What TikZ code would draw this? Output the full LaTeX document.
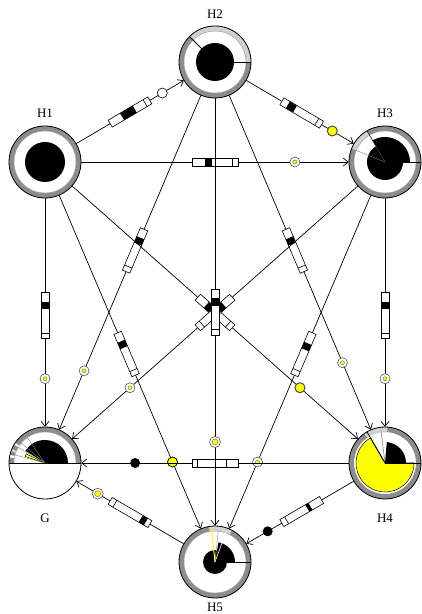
\documentclass[tikz,border=0pt]{standalone}
\usepackage{fontspec}
\setmainfont{Liberation Serif}
\usetikzlibrary{arrows.meta,calc}
\definecolor{ringgray}{gray}{0.55}
\definecolor{ringlight}{gray}{0.82}
\definecolor{ylw}{rgb}{1,1,0}
\newcommand\ringbase[1]{%
  \fill[white] (#1.center) circle (36pt);
  \fill[ringgray,even odd rule] (#1.center) circle (36pt) circle (31pt);}
\newcommand\ringout[1]{\draw[line width=0.8pt] (#1.center) circle (36pt);}
\newcommand\myseg[4]{%
  \fill[#1] ($(#2.center)+(#3:36pt)$) arc[start angle=#3,end angle=#4,radius=36pt]
    -- ($(#2.center)+(#4:31pt)$) arc[start angle=#4,end angle=#3,radius=31pt] -- cycle;}
\newcommand\mysect[5]{%
  \path[#1] (#2.center) -- ($(#2.center)+(#3:#5)$) arc[start angle=#3,end angle=#4,radius=#5] -- cycle;}
\newcommand\myrad[4]{%
  \draw[#4] (#1.center) -- ($(#1.center)+(#2:#3)$);}
\newcommand\barfill[3]{%
  \fill[black] ($(#1.south west)!#2!(#1.south east)$) -- ($(#1.south west)!#3!(#1.south east)$)
    -- ($(#1.north west)!#3!(#1.north east)$) -- ($(#1.north west)!#2!(#1.north east)$) -- cycle;
  \draw[line width=0.6pt] ($(#1.south west)!0.88!(#1.south east)$) -- ($(#1.north west)!0.88!(#1.north east)$);
  \draw[line width=0.6pt] (#1.south west) -- (#1.south east) -- (#1.north east) -- (#1.north west) -- cycle;}
\tikzset{
  nd/.style={circle,minimum size=72pt,inner sep=0pt},
  lbl/.style={inner sep=0pt,font=\fontsize{13}{15}\selectfont},
  edge/.style={line width=0.7pt,-{Straight Barb[length=5pt,width=8pt,line width=0.7pt]}},
  bar/.style={fill=white,sloped,allow upside down,rectangle,
    minimum width=46pt,minimum height=8pt,inner sep=0pt,outer sep=0pt},
  tgt/.style={circle,draw=gray!70!black,fill=white,line width=0.6pt,minimum size=10pt,inner sep=0pt,
    path picture={\filldraw[fill=ylw,draw=black!70,line width=0.3pt] (path picture bounding box.center) circle (2pt);}},
  tgtbig/.style={circle,draw=gray!70!black,fill=white,line width=0.6pt,minimum size=11pt,inner sep=0pt,
    path picture={\filldraw[fill=ylw,draw=black!70,line width=0.3pt] (path picture bounding box.center) circle (3pt);}},
  ydot/.style={circle,draw=gray!60!black,fill=ylw,line width=1pt,minimum size=10pt,inner sep=0pt},
  ystripe/.style={circle,draw=black,fill=ylw,line width=0.8pt,minimum size=10pt,inner sep=0pt},
  bdot/.style={circle,fill=black,minimum size=10pt,inner sep=0pt},
  wcirc/.style={circle,draw=black,fill=white,line width=0.6pt,minimum size=10pt,inner sep=0pt}
}
\begin{document}
\begin{tikzpicture}[x=1pt,y=1pt]
\useasboundingbox (0,0) rectangle (422,614);
% nodes
\node[nd] (H1) at (45,452) {};
\node[nd] (H2) at (215,552) {};
\node[nd] (H3) at (385,452) {};
\node[nd] (G) at (45,151) {};
\node[nd] (H4) at (385,151) {};
\node[nd] (H5) at (215,52) {};
\node[lbl] (H1l) at (45,501) {H1};
\node[lbl] (H2l) at (215,600) {H2};
\node[lbl] (H3l) at (385,501) {H3};
\node[lbl] (Gl) at (45,96) {G};
\node[lbl] (H4l) at (385,96) {H4};
\node[lbl] (H5l) at (215,7) {H5};
% H1
\ringbase{H1}
\draw[gray!70,line width=0.4pt] (H1.center) circle (31pt);
\fill (H1.center) circle (20pt);
\ringout{H1}
% H2
\ringbase{H2}
\myseg{ringlight}{H2}{0}{135}
\draw[gray!70,line width=0.4pt] (H2.center) circle (31pt);
\fill (H2.center) circle (19pt);
\myrad{H2}{0}{36pt}{line width=0.8pt}
\myrad{H2}{135}{36pt}{line width=0.8pt}
\ringout{H2}
% H3
\ringbase{H3}
\myseg{ringlight}{H3}{120}{158}
\draw[gray!70,line width=0.4pt] (H3.center) circle (31pt);
\mysect{fill=black}{H3}{0}{120}{25pt}
\fill (H3.center) circle (18pt);
\myrad{H3}{0}{36pt}{line width=0.8pt}
\myrad{H3}{120}{36pt}{line width=0.7pt,black!80}
\myrad{H3}{158}{31pt}{line width=0.4pt,gray}
\ringout{H3}
% G
\fill[white] (G.center) circle (36pt);
\myseg{ringgray}{G}{0}{180}
\myseg{white}{G}{146}{150}
\myseg{ringlight}{G}{157}{161}
\myseg{white}{G}{167}{171}
\draw[gray!70,line width=0.4pt] ($(G.center)+(0:31pt)$) arc[start angle=0,end angle=180,radius=31pt];
\mysect{fill=black}{G}{0}{148}{23pt}
\mysect{fill=ylw,draw=black,line width=0.4pt}{G}{154}{162}{21pt}
\myrad{G}{125}{31pt}{line width=0.4pt,gray}
\myrad{G}{140}{36pt}{line width=0.4pt,gray}
\myrad{G}{150}{36pt}{line width=0.4pt,gray}
\myrad{G}{165}{36pt}{line width=0.4pt,gray}
\draw[line width=0.8pt] ($(G.center)+(180:36pt)$) -- ($(G.center)+(0:36pt)$);
\ringout{G}
% H4
\ringbase{H4}
\myseg{ringlight}{H4}{86}{125}
\mysect{fill=ylw,draw=black,line width=0.5pt}{H4}{120}{360}{29pt}
\mysect{fill=black}{H4}{0}{85}{21pt}
\myrad{H4}{97}{33pt}{line width=0.5pt,gray}
\myrad{H4}{120}{36pt}{line width=0.8pt}
\myrad{H4}{0}{36pt}{line width=0.8pt}
\ringout{H4}
% H5
\ringbase{H5}
\myseg{ringlight}{H5}{62}{100}
\draw[gray!70,line width=0.4pt] (H5.center) circle (31pt);
\mysect{fill=black}{H5}{0}{80}{20pt}
\fill (H5.center) circle (12pt);
\myrad{H5}{70}{33pt}{line width=0.6pt,white}
\myrad{H5}{84}{33pt}{line width=0.6pt,gray!60}
\myrad{H5}{96}{33pt}{line width=1pt,ylw}
\myrad{H5}{0}{36pt}{line width=0.8pt}
\ringout{H5}
% edges
\draw[edge] (H1) -- (H2);
\path (H1.center) -- node[bar,pos=0.5] (b12) {} node[wcirc,pos=0.69] (m12) {} (H2.center);
\barfill{b12}{0.3}{0.62}
\draw[edge] (H2) -- (H3);
\path (H2.center) -- node[bar,pos=0.51] (b23) {} node[ydot,pos=0.69] (m23) {} (H3.center);
\barfill{b23}{0.15}{0.33}
\draw[edge] (H1) -- (H3);
\path (H1.center) -- node[bar,pos=0.5] (b13) {} node[tgt,pos=0.735] (m13) {} (H3.center);
\barfill{b13}{0.28}{0.43}
\draw[edge] (H1) -- (G);
\path (H1.center) -- node[bar,pos=0.51] (b1g) {} node[tgt,pos=0.72] (m1g) {} (G.center);
\barfill{b1g}{0.2}{0.35}
\draw[edge] (H3) -- (H4);
\path (H3.center) -- node[bar,pos=0.51] (b34) {} node[tgt,pos=0.72] (m34) {} (H4.center);
\barfill{b34}{0.2}{0.35}
\draw[edge] (H1) -- (H5);
\path (H1.center) -- node[bar,pos=0.48] (b15) {} node[ystripe,pos=0.75] (m15) {} (H5.center);
\barfill{b15}{0.2}{0.35}
\draw[edge] (H3) -- (H5);
\path (H3.center) -- node[bar,pos=0.48] (b35) {} node[tgt,pos=0.75] (m35) {} (H5.center);
\barfill{b35}{0.25}{0.4}
\draw[edge] (H2) -- (G);
\path (H2.center) -- node[bar,pos=0.47] (b2g) {} node[tgt,pos=0.77] (m2g) {} (G.center);
\barfill{b2g}{0.2}{0.35}
\draw[edge] (H2) -- (H4);
\path (H2.center) -- node[bar,pos=0.47] (b24) {} node[tgt,pos=0.75] (m24) {} (H4.center);
\barfill{b24}{0.2}{0.35}
\draw[edge] (H1) -- (H4);
\path (H1.center) -- node[bar,pos=0.5] (b14) {} node[ydot,pos=0.75] (m14) {} (H4.center);
\barfill{b14}{0.25}{0.4}
\draw[edge] (H3) -- (G);
\path (H3.center) -- node[bar,pos=0.5] (b3g) {} node[tgt,pos=0.75] (m3g) {} (G.center);
\barfill{b3g}{0.25}{0.4}
\draw[edge] (H4) -- (G);
\path (H4.center) -- node[bar,pos=0.5] (b4g) {} node[bdot,pos=0.735] (m4g) {} (G.center);
\barfill{b4g}{0.24}{0.26}
\draw[edge] (H2) -- (H5);
\path (H2.center) -- node[bar,pos=0.5] (b25) {} node[tgtbig,pos=0.76] (m25) {} (H5.center);
\barfill{b25}{0.2}{0.36}
\draw[edge] (H4) -- (H5);
\path (H4.center) -- node[bar,pos=0.49] (b45) {} node[bdot,pos=0.69] (m45) {} (H5.center);
\barfill{b45}{0.28}{0.36}
\draw[edge] (H5) -- (G);
\path (H5.center) -- node[bar,pos=0.5] (b5g) {} node[tgtbig,pos=0.69] (m5g) {} (G.center);
\barfill{b5g}{0.1}{0.23}
\end{tikzpicture}
\end{document}
